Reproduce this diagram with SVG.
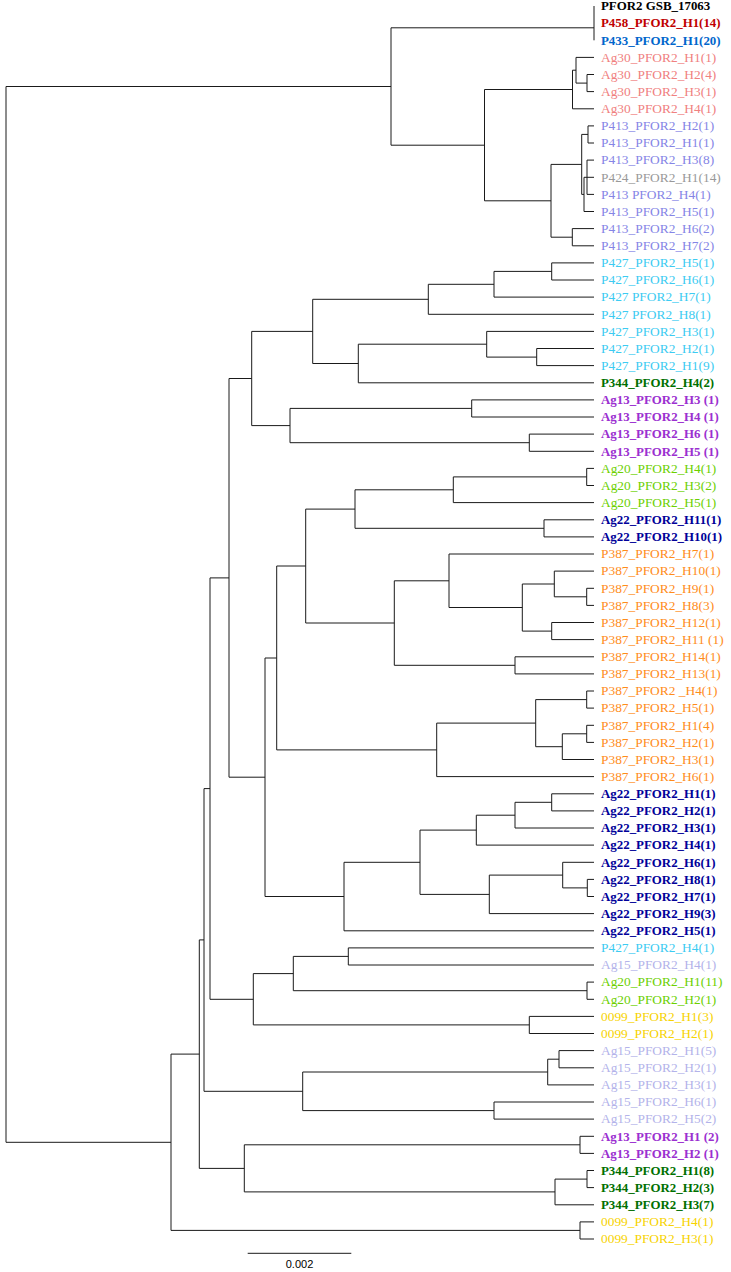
<svg xmlns="http://www.w3.org/2000/svg" width="731" height="1272" viewBox="0 0 731 1272">
<style>
.e{fill:none;stroke:#1a1a1a;stroke-width:1}
text{font-family:"Liberation Serif","Times New Roman",serif;font-size:13.4px}
.bd{font-weight:bold;font-size:12.9px}
.k{fill:#000}.r{fill:#c00000}.b{fill:#0066cc}.a30{fill:#f08080}.p413{fill:#8585e6}.p424{fill:#999999}
.p427{fill:#3ccbf2}.p344{fill:#007000}.ag13{fill:#9b30d0}.ag20{fill:#6cd000}.ag22{fill:#000099}
.p387{fill:#ff8c1a}.ag15{fill:#b3b3ea}.g99{fill:#f7d300}
.sc{font-family:"Liberation Sans",Arial,sans-serif;font-size:11px;fill:#000}
</style>
<rect width="731" height="1272" fill="#fff"/>
<g id="connectors" class="e">
<path d="M6,86.5V1142.3M6,86.5H391M6,1142.3H171"/>
<path d="M391,27.8V145.2M391,27.8H594M391,145.2H484.5"/>
<path d="M594,6V40.3"/>
<path d="M484.5,89.5V200.8M484.5,89.5H572.5M484.5,200.8H551"/>
<path d="M572.5,70.2V108.8M572.5,70.2H576M572.5,108.8H594"/>
<path d="M576,57.4V83.1M576,57.4H594M576,83.1H587"/>
<path d="M587,74.5H594M587,74.5V91.6H594"/>
<path d="M551,164.4V237.2M551,164.4H581.7M551,237.2H572.3"/>
<path d="M581.7,134.4V194.4M581.7,134.4H588M581.7,194.4H584"/>
<path d="M588,125.9H594M588,125.9V143H594"/>
<path d="M584,177.3V211.5M584,177.3H587M584,211.5H594"/>
<path d="M587,160.1H594M587,160.1V194.4H594M587,177.3H594"/>
<path d="M572.3,228.6H594M572.3,228.6V245.8H594"/>
<path d="M171,1054.1V1230.4M171,1054.1H199.3M171,1230.4H580"/>
<path d="M580,1221.9H594M580,1221.9V1239H594"/>
<path d="M199.3,939.9V1168.4M199.3,939.9H204M199.3,1168.4H244.3"/>
<path d="M244.3,1144.8V1191.9M244.3,1144.8H580M244.3,1191.9H555"/>
<path d="M580,1136.3H594M580,1136.3V1153.4H594"/>
<path d="M555,1179.1V1204.8M555,1179.1H587M555,1204.8H594"/>
<path d="M587,1170.5H594M587,1170.5V1187.6H594"/>
<path d="M204,788.6V1091.3M204,788.6H210M204,1091.3H302.7"/>
<path d="M302.7,1072V1110.6M302.7,1072H547.7M302.7,1110.6H494"/>
<path d="M547.7,1059.2V1084.9M547.7,1059.2H559M547.7,1084.9H594"/>
<path d="M559,1050.6H594M559,1050.6V1067.8H594"/>
<path d="M494,1102H594M494,1102V1119.1H594"/>
<path d="M210,577.9V999.3M210,577.9H229M210,999.3H253.3"/>
<path d="M253.3,973.6V1024.9M253.3,973.6H293.3M253.3,1024.9H529.3"/>
<path d="M529.3,1016.4H594M529.3,1016.4V1033.5H594"/>
<path d="M293.3,956.4V990.7M293.3,956.4H348.3M293.3,990.7H587"/>
<path d="M348.3,947.9H594M348.3,947.9V965H594"/>
<path d="M587,982.1H594M587,982.1V999.3H594"/>
<path d="M229,378.5V777.2M229,378.5H251.7M229,777.2H265"/>
<path d="M251.7,331.4V425.6M251.7,331.4H312.7M251.7,425.6H290"/>
<path d="M312.7,299.3V363.5M312.7,299.3H428.3M312.7,363.5H358.3"/>
<path d="M428.3,284.3V314.3M428.3,284.3H494M428.3,314.3H594"/>
<path d="M494,271.4V297.1M494,271.4H551.7M494,297.1H594"/>
<path d="M551.7,262.9H594M551.7,262.9V280H594"/>
<path d="M358.3,344.2V382.8M358.3,344.2H486.7M358.3,382.8H594"/>
<path d="M486.7,331.4V357.1M486.7,331.4H594M486.7,357.1H536.7"/>
<path d="M536.7,348.5H594M536.7,348.5V365.6H594"/>
<path d="M290,408.4V442.7M290,408.4H471.7M290,442.7H529.3"/>
<path d="M471.7,399.9H594M471.7,399.9V417H594"/>
<path d="M529.3,434.1H594M529.3,434.1V451.3H594"/>
<path d="M265,658V896.5M265,658H276.7M265,896.5H344"/>
<path d="M276.7,566V749.9M276.7,566H305.7M276.7,749.9H436.7"/>
<path d="M305.7,509.1V623M305.7,509.1H355M305.7,623H394.3"/>
<path d="M355,489.8V528.3M355,489.8H453.3M355,528.3H544"/>
<path d="M453.3,476.9V502.6M453.3,476.9H586.7M453.3,502.6H594"/>
<path d="M586.7,468.4H594M586.7,468.4V485.5H594"/>
<path d="M544,519.8H594M544,519.8V536.9H594"/>
<path d="M394.3,580.8V665.3M394.3,580.8H449M394.3,665.3H515"/>
<path d="M449,554V607.5M449,554H594M449,607.5H522.3"/>
<path d="M522.3,584V631.1M522.3,584H554.3M522.3,631.1H551.7"/>
<path d="M554.3,571.1V596.8M554.3,571.1H594M554.3,596.8H586.7"/>
<path d="M586.7,588.3H594M586.7,588.3V605.4H594"/>
<path d="M551.7,622.5H594M551.7,622.5V639.6H594"/>
<path d="M515,656.8H594M515,656.8V673.9H594"/>
<path d="M436.7,723.1V776.6M436.7,723.1H535.7M436.7,776.6H594"/>
<path d="M535.7,699.6V746.7M535.7,699.6H586.7M535.7,746.7H562.3"/>
<path d="M586.7,691H594M586.7,691V708.1H594"/>
<path d="M562.3,733.8V759.5M562.3,733.8H586.7M562.3,759.5H594"/>
<path d="M586.7,725.3H594M586.7,725.3V742.4H594"/>
<path d="M344,862.3V930.8M344,862.3H420M344,930.8H594"/>
<path d="M420,830.1V894.4M420,830.1H476.3M420,894.4H489.3"/>
<path d="M476.3,815.2V845.1M476.3,815.2H515M476.3,845.1H594"/>
<path d="M515,802.3V828M515,802.3H551.7M515,828H594"/>
<path d="M551.7,793.8H594M551.7,793.8V810.9H594"/>
<path d="M489.3,875.1V913.6M489.3,875.1H562.7M489.3,913.6H594"/>
<path d="M562.7,862.3V887.9M562.7,862.3H594M562.7,887.9H587.3"/>
<path d="M587.3,879.4H594M587.3,879.4V896.5H594"/>
</g>
<g id="leaves">
<g id="n1"><text class="bd k" x="601" y="10.3">PFOR2 GSB_17063</text></g>
<g id="n2"><text class="bd r" x="601" y="27.4">P458_PFOR2_H1(14)</text></g>
<g id="n3"><text class="bd b" x="601" y="44.6">P433_PFOR2_H1(20)</text></g>
<g id="n4"><text class="a30" x="601" y="61.7">Ag30_PFOR2_H1(1)</text></g>
<g id="n5"><text class="a30" x="601" y="78.8">Ag30_PFOR2_H2(4)</text></g>
<g id="n6"><text class="a30" x="601" y="95.9">Ag30_PFOR2_H3(1)</text></g>
<g id="n7"><text class="a30" x="601" y="113.1">Ag30_PFOR2_H4(1)</text></g>
<g id="n8"><text class="p413" x="601" y="130.2">P413_PFOR2_H2(1)</text></g>
<g id="n9"><text class="p413" x="601" y="147.3">P413_PFOR2_H1(1)</text></g>
<g id="n10"><text class="p413" x="601" y="164.4">P413_PFOR2_H3(8)</text></g>
<g id="n11"><text class="p424" x="601" y="181.6">P424_PFOR2_H1(14)</text></g>
<g id="n12"><text class="p413" x="601" y="198.7">P413 PFOR2_H4(1)</text></g>
<g id="n13"><text class="p413" x="601" y="215.8">P413_PFOR2_H5(1)</text></g>
<g id="n14"><text class="p413" x="601" y="232.9">P413_PFOR2_H6(2)</text></g>
<g id="n15"><text class="p413" x="601" y="250.1">P413_PFOR2_H7(2)</text></g>
<g id="n16"><text class="p427" x="601" y="267.2">P427_PFOR2_H5(1)</text></g>
<g id="n17"><text class="p427" x="601" y="284.3">P427_PFOR2_H6(1)</text></g>
<g id="n18"><text class="p427" x="601" y="301.4">P427 PFOR2_H7(1)</text></g>
<g id="n19"><text class="p427" x="601" y="318.6">P427 PFOR2_H8(1)</text></g>
<g id="n20"><text class="p427" x="601" y="335.7">P427_PFOR2_H3(1)</text></g>
<g id="n21"><text class="p427" x="601" y="352.8">P427_PFOR2_H2(1)</text></g>
<g id="n22"><text class="p427" x="601" y="369.9">P427_PFOR2_H1(9)</text></g>
<g id="n23"><text class="bd p344" x="601" y="387.1">P344_PFOR2_H4(2)</text></g>
<g id="n24"><text class="bd ag13" x="601" y="404.2">Ag13_PFOR2_H3 (1)</text></g>
<g id="n25"><text class="bd ag13" x="601" y="421.3">Ag13_PFOR2_H4 (1)</text></g>
<g id="n26"><text class="bd ag13" x="601" y="438.4">Ag13_PFOR2_H6 (1)</text></g>
<g id="n27"><text class="bd ag13" x="601" y="455.6">Ag13_PFOR2_H5 (1)</text></g>
<g id="n28"><text class="ag20" x="601" y="472.7">Ag20_PFOR2_H4(1)</text></g>
<g id="n29"><text class="ag20" x="601" y="489.8">Ag20_PFOR2_H3(2)</text></g>
<g id="n30"><text class="ag20" x="601" y="506.9">Ag20_PFOR2_H5(1)</text></g>
<g id="n31"><text class="bd ag22" x="601" y="524.1">Ag22_PFOR2_H11(1)</text></g>
<g id="n32"><text class="bd ag22" x="601" y="541.2">Ag22_PFOR2_H10(1)</text></g>
<g id="n33"><text class="p387" x="601" y="558.3">P387_PFOR2_H7(1)</text></g>
<g id="n34"><text class="p387" x="601" y="575.4">P387_PFOR2_H10(1)</text></g>
<g id="n35"><text class="p387" x="601" y="592.6">P387_PFOR2_H9(1)</text></g>
<g id="n36"><text class="p387" x="601" y="609.7">P387_PFOR2_H8(3)</text></g>
<g id="n37"><text class="p387" x="601" y="626.8">P387_PFOR2_H12(1)</text></g>
<g id="n38"><text class="p387" x="601" y="643.9">P387_PFOR2_H11 (1)</text></g>
<g id="n39"><text class="p387" x="601" y="661.1">P387_PFOR2_H14(1)</text></g>
<g id="n40"><text class="p387" x="601" y="678.2">P387_PFOR2_H13(1)</text></g>
<g id="n41"><text class="p387" x="601" y="695.3">P387_PFOR2 _H4(1)</text></g>
<g id="n42"><text class="p387" x="601" y="712.4">P387_PFOR2_H5(1)</text></g>
<g id="n43"><text class="p387" x="601" y="729.6">P387_PFOR2_H1(4)</text></g>
<g id="n44"><text class="p387" x="601" y="746.7">P387_PFOR2_H2(1)</text></g>
<g id="n45"><text class="p387" x="601" y="763.8">P387_PFOR2_H3(1)</text></g>
<g id="n46"><text class="p387" x="601" y="780.9">P387_PFOR2_H6(1)</text></g>
<g id="n47"><text class="bd ag22" x="601" y="798.1">Ag22_PFOR2_H1(1)</text></g>
<g id="n48"><text class="bd ag22" x="601" y="815.2">Ag22_PFOR2_H2(1)</text></g>
<g id="n49"><text class="bd ag22" x="601" y="832.3">Ag22_PFOR2_H3(1)</text></g>
<g id="n50"><text class="bd ag22" x="601" y="849.4">Ag22_PFOR2_H4(1)</text></g>
<g id="n51"><text class="bd ag22" x="601" y="866.6">Ag22_PFOR2_H6(1)</text></g>
<g id="n52"><text class="bd ag22" x="601" y="883.7">Ag22_PFOR2_H8(1)</text></g>
<g id="n53"><text class="bd ag22" x="601" y="900.8">Ag22_PFOR2_H7(1)</text></g>
<g id="n54"><text class="bd ag22" x="601" y="917.9">Ag22_PFOR2_H9(3)</text></g>
<g id="n55"><text class="bd ag22" x="601" y="935.1">Ag22_PFOR2_H5(1)</text></g>
<g id="n56"><text class="p427" x="601" y="952.2">P427_PFOR2_H4(1)</text></g>
<g id="n57"><text class="ag15" x="601" y="969.3">Ag15_PFOR2_H4(1)</text></g>
<g id="n58"><text class="ag20" x="601" y="986.4">Ag20_PFOR2_H1(11)</text></g>
<g id="n59"><text class="ag20" x="601" y="1003.6">Ag20_PFOR2_H2(1)</text></g>
<g id="n60"><text class="g99" x="601" y="1020.7">0099_PFOR2_H1(3)</text></g>
<g id="n61"><text class="g99" x="601" y="1037.8">0099_PFOR2_H2(1)</text></g>
<g id="n62"><text class="ag15" x="601" y="1054.9">Ag15_PFOR2_H1(5)</text></g>
<g id="n63"><text class="ag15" x="601" y="1072.1">Ag15_PFOR2_H2(1)</text></g>
<g id="n64"><text class="ag15" x="601" y="1089.2">Ag15_PFOR2_H3(1)</text></g>
<g id="n65"><text class="ag15" x="601" y="1106.3">Ag15_PFOR2_H6(1)</text></g>
<g id="n66"><text class="ag15" x="601" y="1123.4">Ag15_PFOR2_H5(2)</text></g>
<g id="n67"><text class="bd ag13" x="601" y="1140.6">Ag13_PFOR2_H1 (2)</text></g>
<g id="n68"><text class="bd ag13" x="601" y="1157.7">Ag13_PFOR2_H2 (1)</text></g>
<g id="n69"><text class="bd p344" x="601" y="1174.8">P344_PFOR2_H1(8)</text></g>
<g id="n70"><text class="bd p344" x="601" y="1191.9">P344_PFOR2_H2(3)</text></g>
<g id="n71"><text class="bd p344" x="601" y="1209.1">P344_PFOR2_H3(7)</text></g>
<g id="n72"><text class="g99" x="601" y="1226.2">0099_PFOR2_H4(1)</text></g>
<g id="n73"><text class="g99" x="601" y="1243.3">0099_PFOR2_H3(1)</text></g>
</g>
<g id="scalebar">
<path class="e" d="M247.7,1253.3H351.3"/>
<text class="sc" x="299.5" y="1268" text-anchor="middle">0.002</text>
</g>
</svg>
